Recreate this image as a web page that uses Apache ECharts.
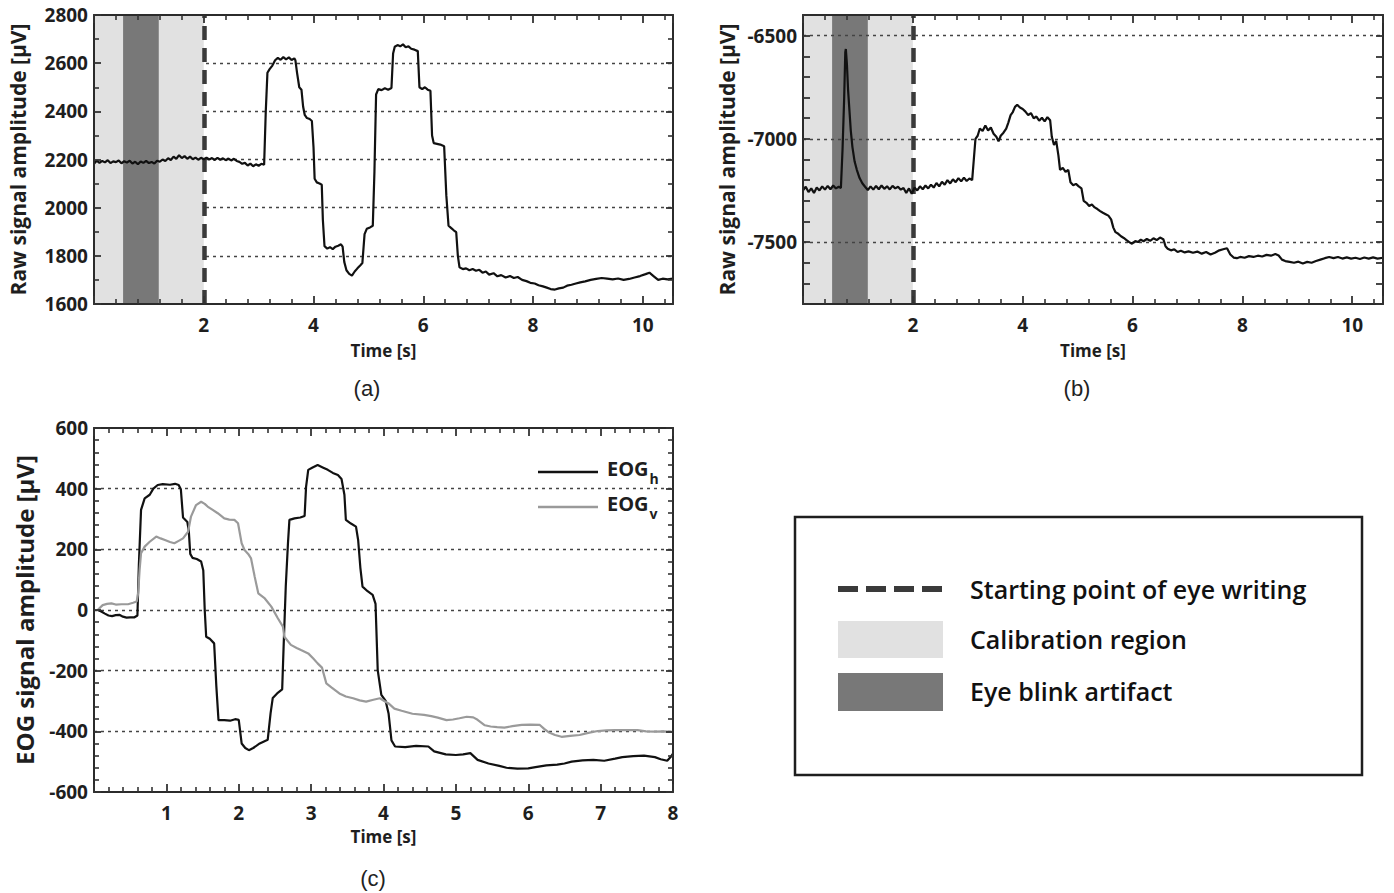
<!DOCTYPE html>
<html><head><meta charset="utf-8">
<script src="https://cdn.jsdelivr.net/npm/echarts@6/dist/echarts.min.js"></script>
<style>
html,body{margin:0;padding:0;background:#fff}
#wrap{position:relative;width:1394px;height:893px}
#plot,#axes{position:absolute;left:0;top:0;width:1394px;height:893px}
#axes{pointer-events:none}
</style>
</head><body><div id="wrap"><div id="plot"></div><div id="axes"></div></div>
<script>
// ---------- DATA ----------
// (a) raw horizontal channel: [time s, amplitude µV]
const rawA = [[0.00,2182],[0.05,2195],[0.10,2186],[0.15,2194],[0.20,2188],[0.25,2197],[0.30,2185],[0.35,2192],[0.40,2189],[0.45,2196],[0.50,2184],[0.55,2193],[0.60,2187],[0.65,2195],[0.70,2183],[0.75,2191],[0.80,2180],[0.85,2192],[0.90,2186],[0.95,2194],[1.00,2185],[1.05,2190],[1.10,2183],[1.15,2195],[1.20,2191],[1.25,2200],[1.30,2194],[1.35,2205],[1.40,2198],[1.45,2212],[1.50,2203],[1.55,2218],[1.60,2206],[1.65,2214],[1.70,2203],[1.75,2212],[1.80,2201],[1.85,2208],[1.90,2199],[1.95,2207],[2.00,2201],[2.05,2208],[2.10,2200],[2.15,2206],[2.20,2198],[2.25,2207],[2.30,2199],[2.35,2205],[2.40,2197],[2.45,2204],[2.50,2196],[2.55,2203],[2.60,2194],[2.65,2190],[2.70,2182],[2.75,2186],[2.80,2175],[2.85,2183],[2.90,2172],[2.95,2180],[3.00,2174],[3.05,2182],[3.10,2178],[3.13,2400],[3.16,2560],[3.20,2575],[3.25,2590],[3.30,2612],[3.35,2622],[3.40,2614],[3.45,2625],[3.50,2616],[3.55,2624],[3.60,2613],[3.65,2620],[3.67,2612],[3.70,2560],[3.74,2500],[3.78,2490],[3.81,2420],[3.84,2385],[3.88,2372],[3.93,2368],[3.97,2360],[4.00,2250],[4.02,2120],[4.06,2105],[4.11,2100],[4.15,2095],[4.17,1950],[4.20,1840],[4.25,1830],[4.30,1836],[4.35,1828],[4.40,1838],[4.45,1842],[4.50,1848],[4.53,1838],[4.56,1775],[4.60,1740],[4.65,1725],[4.70,1718],[4.75,1735],[4.80,1748],[4.85,1760],[4.89,1770],[4.93,1890],[4.97,1912],[5.03,1918],[5.08,1925],[5.11,2150],[5.14,2470],[5.18,2492],[5.24,2488],[5.30,2496],[5.36,2490],[5.42,2497],[5.45,2640],[5.48,2668],[5.53,2675],[5.58,2670],[5.63,2678],[5.68,2666],[5.73,2670],[5.78,2660],[5.84,2656],[5.90,2650],[5.93,2500],[5.98,2492],[6.03,2500],[6.08,2490],[6.13,2485],[6.16,2300],[6.19,2268],[6.25,2265],[6.31,2262],[6.38,2255],[6.42,2050],[6.46,1925],[6.51,1915],[6.56,1905],[6.60,1898],[6.63,1800],[6.66,1752],[6.72,1745],[6.78,1748],[6.84,1740],[6.90,1745],[6.96,1738],[7.02,1742],[7.08,1730],[7.14,1735],[7.20,1722],[7.28,1728],[7.35,1715],[7.42,1720],[7.50,1710],[7.58,1716],[7.65,1708],[7.72,1712],[7.80,1700],[7.88,1695],[7.95,1688],[8.03,1685],[8.10,1678],[8.18,1673],[8.25,1668],[8.32,1662],[8.40,1660],[8.47,1665],[8.55,1668],[8.62,1676],[8.70,1680],[8.78,1685],[8.86,1690],[8.95,1694],[9.05,1700],[9.15,1704],[9.25,1708],[9.35,1705],[9.45,1702],[9.55,1706],[9.65,1700],[9.75,1704],[9.85,1710],[9.95,1716],[10.05,1724],[10.12,1730],[10.20,1715],[10.28,1700],[10.36,1705],[10.45,1702],[10.55,1706]];

// (b) raw vertical channel: [time s, amplitude µV]
const rawB = [[0.00,-7250],[0.05,-7232],[0.10,-7258],[0.15,-7240],[0.20,-7262],[0.25,-7236],[0.30,-7250],[0.35,-7230],[0.40,-7246],[0.45,-7228],[0.50,-7244],[0.55,-7226],[0.60,-7240],[0.65,-7232],[0.69,-7238],[0.72,-7050],[0.75,-6800],[0.77,-6580],[0.78,-6565],[0.80,-6640],[0.82,-6760],[0.84,-6840],[0.87,-6960],[0.90,-7040],[0.94,-7110],[0.98,-7150],[1.03,-7190],[1.08,-7215],[1.13,-7232],[1.18,-7248],[1.23,-7230],[1.28,-7246],[1.33,-7228],[1.38,-7244],[1.43,-7226],[1.48,-7242],[1.53,-7230],[1.58,-7245],[1.63,-7228],[1.68,-7240],[1.73,-7232],[1.78,-7246],[1.83,-7238],[1.88,-7262],[1.93,-7240],[1.98,-7266],[2.03,-7236],[2.08,-7250],[2.13,-7230],[2.18,-7244],[2.23,-7226],[2.28,-7240],[2.33,-7222],[2.38,-7236],[2.43,-7214],[2.48,-7230],[2.53,-7208],[2.58,-7222],[2.63,-7200],[2.68,-7216],[2.73,-7196],[2.78,-7210],[2.83,-7190],[2.88,-7206],[2.93,-7188],[2.98,-7204],[3.03,-7192],[3.08,-7200],[3.11,-7100],[3.14,-7000],[3.18,-6985],[3.22,-6950],[3.27,-6962],[3.32,-6935],[3.37,-6960],[3.42,-6945],[3.47,-6975],[3.52,-6990],[3.56,-7012],[3.60,-6985],[3.65,-6970],[3.70,-6950],[3.74,-6920],[3.78,-6885],[3.82,-6870],[3.86,-6845],[3.90,-6835],[3.95,-6848],[4.00,-6855],[4.05,-6868],[4.10,-6885],[4.15,-6875],[4.20,-6900],[4.25,-6892],[4.30,-6912],[4.35,-6898],[4.40,-6915],[4.45,-6895],[4.50,-6910],[4.53,-6990],[4.57,-7030],[4.61,-7010],[4.65,-7080],[4.68,-7150],[4.73,-7140],[4.78,-7160],[4.83,-7150],[4.87,-7210],[4.92,-7225],[4.97,-7218],[5.02,-7230],[5.07,-7240],[5.11,-7300],[5.16,-7310],[5.21,-7325],[5.26,-7318],[5.31,-7332],[5.36,-7340],[5.41,-7350],[5.46,-7358],[5.51,-7365],[5.56,-7372],[5.61,-7390],[5.65,-7430],[5.69,-7452],[5.74,-7460],[5.79,-7472],[5.84,-7480],[5.89,-7490],[5.94,-7500],[5.99,-7508],[6.05,-7495],[6.10,-7500],[6.15,-7488],[6.20,-7496],[6.26,-7485],[6.32,-7494],[6.38,-7482],[6.44,-7490],[6.50,-7478],[6.56,-7486],[6.60,-7520],[6.64,-7532],[6.70,-7540],[6.76,-7535],[6.82,-7548],[6.88,-7542],[6.95,-7550],[7.02,-7545],[7.10,-7552],[7.18,-7546],[7.26,-7556],[7.34,-7548],[7.42,-7560],[7.50,-7552],[7.58,-7540],[7.65,-7535],[7.72,-7530],[7.78,-7560],[7.84,-7575],[7.90,-7578],[7.96,-7572],[8.04,-7576],[8.12,-7568],[8.20,-7572],[8.28,-7566],[8.36,-7570],[8.44,-7562],[8.52,-7566],[8.60,-7558],[8.66,-7565],[8.72,-7585],[8.78,-7592],[8.86,-7596],[8.94,-7600],[9.02,-7595],[9.10,-7604],[9.18,-7596],[9.26,-7600],[9.34,-7592],[9.42,-7585],[9.50,-7578],[9.58,-7572],[9.66,-7578],[9.74,-7572],[9.82,-7580],[9.90,-7574],[9.98,-7580],[10.06,-7576],[10.14,-7582],[10.22,-7575],[10.30,-7580],[10.38,-7574],[10.46,-7580],[10.56,-7576]];

// (c) EOG horizontal / vertical: [time s, amplitude µV]
const eogH = [[0.05,0],[0.10,-5],[0.15,-12],[0.20,-18],[0.25,-20],[0.30,-17],[0.35,-16],[0.40,-22],[0.45,-25],[0.50,-24],[0.56,-24],[0.60,-18],[0.62,150],[0.65,330],[0.70,368],[0.77,380],[0.82,400],[0.88,412],[0.95,415],[1.05,413],[1.12,416],[1.17,412],[1.20,398],[1.23,305],[1.29,290],[1.31,260],[1.33,185],[1.36,172],[1.42,168],[1.48,160],[1.51,130],[1.53,0],[1.55,-88],[1.60,-95],[1.66,-110],[1.69,-250],[1.72,-363],[1.80,-363],[1.88,-365],[1.95,-360],[2.00,-362],[2.04,-440],[2.09,-455],[2.14,-462],[2.20,-455],[2.29,-440],[2.40,-428],[2.44,-340],[2.47,-290],[2.53,-275],[2.60,-262],[2.62,-120],[2.65,80],[2.68,220],[2.70,297],[2.77,302],[2.85,305],[2.91,310],[2.93,406],[2.96,462],[3.02,470],[3.09,478],[3.16,470],[3.23,462],[3.30,452],[3.37,445],[3.42,432],[3.46,380],[3.48,297],[3.55,285],[3.62,275],[3.65,230],[3.68,140],[3.71,77],[3.78,62],[3.85,50],[3.89,20],[3.92,-198],[3.97,-280],[4.03,-300],[4.07,-341],[4.11,-430],[4.16,-450],[4.30,-452],[4.45,-448],[4.62,-450],[4.70,-466],[4.86,-476],[5.00,-478],[5.10,-476],[5.20,-472],[5.30,-494],[5.45,-506],[5.60,-514],[5.70,-520],[5.85,-523],[6.00,-522],[6.10,-518],[6.25,-512],[6.40,-510],[6.50,-506],[6.60,-500],[6.75,-496],[6.90,-494],[7.05,-497],[7.20,-490],[7.30,-485],[7.45,-482],[7.60,-480],[7.75,-485],[7.83,-492],[7.92,-497],[7.97,-484],[8.00,-473]];
const eogV = [[0.05,0],[0.12,16],[0.18,20],[0.24,22],[0.30,18],[0.38,19],[0.47,19],[0.54,24],[0.59,28],[0.61,55],[0.63,132],[0.65,187],[0.70,209],[0.77,225],[0.86,242],[0.92,236],[0.98,231],[1.05,224],[1.11,220],[1.17,228],[1.23,236],[1.30,258],[1.34,308],[1.41,346],[1.48,357],[1.53,350],[1.57,341],[1.64,330],[1.71,319],[1.80,302],[1.87,298],[1.94,297],[1.99,286],[2.04,220],[2.08,198],[2.13,185],[2.17,170],[2.22,110],[2.27,55],[2.36,38],[2.45,11],[2.54,-27],[2.61,-55],[2.63,-88],[2.72,-115],[2.80,-125],[2.86,-132],[2.96,-143],[3.03,-160],[3.09,-176],[3.15,-190],[3.21,-242],[3.28,-255],[3.39,-275],[3.48,-285],[3.58,-291],[3.67,-298],[3.76,-302],[3.86,-296],[3.95,-291],[4.01,-300],[4.07,-308],[4.15,-325],[4.25,-332],[4.40,-342],[4.56,-346],[4.66,-350],[4.75,-355],[4.87,-363],[4.96,-361],[5.05,-357],[5.15,-352],[5.24,-354],[5.30,-362],[5.40,-380],[5.48,-384],[5.57,-386],[5.67,-388],[5.78,-383],[5.91,-379],[6.03,-378],[6.16,-379],[6.22,-392],[6.28,-403],[6.37,-412],[6.46,-418],[6.58,-415],[6.71,-412],[6.83,-405],[6.96,-399],[7.08,-397],[7.20,-396],[7.35,-396],[7.51,-396],[7.63,-400],[7.75,-401],[7.87,-400],[8.00,-402]];

// markers / reference values
const calibRange = [0, 2];          // s
const blinkRange = [0.53, 1.18];    // s
const writingStart = 2;             // s
const gridValsA = [1800, 2000, 2200, 2400, 2600];
const gridValsB = [-6500, -7000, -7500];
const gridValsC = [-400, -200, 0, 200, 400];
const keyNames = ['Starting point of eye writing', 'Calibration region', 'Eye blink artifact'];

// ---------- STYLE ----------
const FONT = "'Open Sans', 'Liberation Sans', sans-serif";
const AX = '#2b2b2b';
const C_CALIB = '#e1e1e1', C_BLINK = '#787878', C_DASH = '#3a3a3a', C_GRID = '#444';
const tickLbl = {fontSize: 19, fontWeight: 'bold', color: '#1e1e1e', fontFamily: FONT};
const nameStyle = (fs) => ({fontSize: fs, fontWeight: 'bold', color: '#1e1e1e', fontFamily: FONT});

const rectA = {left: 94, top: 15, width: 579, height: 289};
const rectB = {left: 803, top: 15, width: 580, height: 289};
const rectC = {left: 94, top: 428, width: 579, height: 364};
const ranges = [
  {x: [0, 10.55], y: [1600, 2800]},
  {x: [0, 10.56], y: [-7800, -6400]},
  {x: [0, 8], y: [-600, 600]}
];

// ===== Layer 1: data, regions, gridlines, legend, key =====
function hiddenAx(gi, r) { return {type: 'value', gridIndex: gi, min: r[0], max: r[1], show: false}; }
function gridLines(xi, yi, vals, z) {
  return {type: 'line', xAxisIndex: xi, yAxisIndex: yi, data: [], silent: true,
    markLine: {silent: true, z: z, symbol: ['none', 'none'], label: {show: false},
      lineStyle: {type: [3, 4], color: C_GRID, width: 1.3},
      data: vals.map(v => ({yAxis: v}))}};
}
function regions(xi, yi) {
  return [
    {name: keyNames[1], type: 'line', xAxisIndex: xi, yAxisIndex: yi, data: [], itemStyle: {color: C_CALIB},
      markArea: {silent: true, z: 2, itemStyle: {color: C_CALIB},
        data: [[{xAxis: calibRange[0]}, {xAxis: calibRange[1]}]]}},
    {name: keyNames[2], type: 'line', xAxisIndex: xi, yAxisIndex: yi, data: [], itemStyle: {color: C_BLINK},
      markArea: {silent: true, z: 3, itemStyle: {color: C_BLINK},
        data: [[{xAxis: blinkRange[0]}, {xAxis: blinkRange[1]}]]}},
    {name: keyNames[0], type: 'line', xAxisIndex: xi, yAxisIndex: yi, data: [], itemStyle: {color: C_DASH},
      markLine: {silent: true, z: 4, symbol: ['none', 'none'], label: {show: false},
        lineStyle: {type: [14, 8], color: C_DASH, width: 4.5},
        data: [{xAxis: writingStart}]}}
  ];
}
function trace(name, xi, yi, data, color) {
  return {name: name, type: 'line', xAxisIndex: xi, yAxisIndex: yi, data: data, z: 5,
    showSymbol: false, symbol: 'none', itemStyle: {color: color},
    lineStyle: {color: color, width: 2.2}};
}
const keyFont = {fontSize: 25, fontWeight: 600, fontFamily: FONT, fill: '#111', align: 'left', verticalAlign: 'middle'};
const panelFont = {fontSize: 22, fontFamily: "'Liberation Sans', Arial, sans-serif", fill: '#222', align: 'center', verticalAlign: 'middle'};

const plotOption = {
  animation: false,
  grid: [rectA, rectB, rectC].map(r => Object.assign({}, r)),
  xAxis: ranges.map((r, i) => hiddenAx(i, r.x)),
  yAxis: ranges.map((r, i) => hiddenAx(i, r.y)),
  legend: {
    data: ['EOGh', 'EOGv'], orient: 'vertical', left: 538, top: 458, padding: 0,
    icon: 'rect', itemWidth: 60, itemHeight: 2.5, itemGap: 7, selectedMode: false,
    itemStyle: {borderWidth: 0},
    formatter: n => '{a|EOG}{b|' + n.slice(3) + '}',
    textStyle: {padding: [0, 0, 0, 4], rich: {
      a: {fontSize: 20, fontWeight: 'bold', color: '#1e1e1e', fontFamily: FONT, lineHeight: 22, padding: [0, 0, 8, 0]},
      b: {fontSize: 14, fontWeight: 'bold', color: '#1e1e1e', fontFamily: FONT, lineHeight: 14, padding: [12, 0, 0, 1]}
    }}
  },
  graphic: [
    {type: 'rect', shape: {x: 795, y: 517, width: 567, height: 258}, style: {fill: 'none', stroke: '#1e1e1e', lineWidth: 2.5}, silent: true},
    {type: 'line', shape: {x1: 838, y1: 589, x2: 943, y2: 589}, style: {stroke: C_DASH, lineWidth: 6, lineDash: [20, 8]}, silent: true},
    {type: 'rect', shape: {x: 838, y: 621, width: 105, height: 37}, style: {fill: C_CALIB}, silent: true},
    {type: 'rect', shape: {x: 838, y: 673, width: 105, height: 38}, style: {fill: C_BLINK}, silent: true},
    {type: 'text', x: 970, y: 589, silent: true, style: Object.assign({text: keyNames[0]}, keyFont)},
    {type: 'text', x: 970, y: 639, silent: true, style: Object.assign({text: keyNames[1]}, keyFont)},
    {type: 'text', x: 970, y: 691, silent: true, style: Object.assign({text: keyNames[2]}, keyFont)},
    {type: 'text', x: 367, y: 388, silent: true, style: Object.assign({text: '(a)'}, panelFont)},
    {type: 'text', x: 1077, y: 388, silent: true, style: Object.assign({text: '(b)'}, panelFont)},
    {type: 'text', x: 373, y: 878, silent: true, style: Object.assign({text: '(c)'}, panelFont)}
  ],
  series: [
    gridLines(0, 0, gridValsA, 1),
    ...regions(0, 0),
    trace('Raw (a)', 0, 0, rawA, '#111'),
    ...regions(1, 1),
    gridLines(1, 1, gridValsB, 3.5),
    trace('Raw (b)', 1, 1, rawB, '#111'),
    gridLines(2, 2, gridValsC, 1),
    trace('EOGh', 2, 2, eogH, '#111'),
    trace('EOGv', 2, 2, eogV, '#9a9a9a')
  ]
};

// ===== Layer 2 (on top): frames, ticks, tick labels, axis names =====
function xAx(gi, pos, max, interval, withLabels, fmt, nameGap) {
  return {
    type: 'value', gridIndex: gi, position: pos, min: 0, max: max, interval: interval,
    axisLine: {show: true, onZero: false, lineStyle: {color: AX, width: 2}},
    axisTick: {show: true, inside: true, length: 8, lineStyle: {color: '#333333', width: 1.8}},
    minorTick: {show: true, splitNumber: 5, length: 5, lineStyle: {color: '#333333', width: 1.6}},
    splitLine: {show: false}, minorSplitLine: {show: false},
    axisLabel: Object.assign({show: withLabels, margin: 11, formatter: fmt || (v => String(v))}, tickLbl),
    name: withLabels ? 'Time [s]' : '', nameLocation: 'middle', nameGap: nameGap || 38,
    nameTextStyle: nameStyle(17)
  };
}
function yAx(gi, pos, min, max, interval, minorSplit, withLabels, fmt, name, nameGap, nameFs) {
  return {
    type: 'value', gridIndex: gi, position: pos, min: min, max: max, interval: interval,
    axisLine: {show: true, onZero: false, lineStyle: {color: AX, width: 2}},
    axisTick: {show: true, inside: true, length: 7, lineStyle: {color: '#333333', width: 1.8}},
    minorTick: {show: minorSplit > 1, splitNumber: minorSplit || 2, length: 5, lineStyle: {color: '#333333', width: 1.6}},
    splitLine: {show: false}, minorSplitLine: {show: false},
    axisLabel: Object.assign({show: withLabels, margin: 6, formatter: fmt || (v => String(v))}, tickLbl),
    name: withLabels ? name : '', nameLocation: 'middle', nameGap: nameGap || 40, nameRotate: 90,
    nameTextStyle: nameStyle(nameFs || 20)
  };
}
const fmtEven = v => (v > 0 && Math.abs(v % 2) < 1e-9) ? String(v) : '';
const fmtPos = v => (v > 0) ? String(v) : '';
const fmtB = v => (Math.abs(v % 500) < 1e-9) ? String(v) : '';
const fmtPlain = v => String(v);

const axesOption = {
  animation: false,
  grid: [rectA, rectB, rectC, rectA, rectB, rectC].map(r => Object.assign({}, r)),
  xAxis: [
    xAx(0, 'bottom', ranges[0].x[1], 2, true, fmtEven, 38),
    xAx(1, 'bottom', ranges[1].x[1], 2, true, fmtEven, 38),
    xAx(2, 'bottom', ranges[2].x[1], 1, true, fmtPos, 36),
    xAx(3, 'top', ranges[0].x[1], 2, false),
    xAx(4, 'top', ranges[1].x[1], 2, false),
    xAx(5, 'top', ranges[2].x[1], 1, false)
  ],
  yAxis: [
    yAx(0, 'left', ranges[0].y[0], ranges[0].y[1], 200, 2, true, fmtPlain, 'Raw signal amplitude [μV]', 66, 21),
    yAx(1, 'left', ranges[1].y[0], ranges[1].y[1], 100, 0, true, fmtB, 'Raw signal amplitude [μV]', 66, 21),
    yAx(2, 'left', ranges[2].y[0], ranges[2].y[1], 200, 5, true, fmtPlain, 'EOG signal amplitude [μV]', 58, 24),
    yAx(3, 'right', ranges[0].y[0], ranges[0].y[1], 200, 2, false),
    yAx(4, 'right', ranges[1].y[0], ranges[1].y[1], 100, 0, false),
    yAx(5, 'right', ranges[2].y[0], ranges[2].y[1], 200, 5, false)
  ],
  series: [0, 1, 2, 3, 4, 5].map(i => ({type: 'line', xAxisIndex: i, yAxisIndex: i, data: [], silent: true}))
};

const plotChart = echarts.init(document.getElementById('plot'), null, {renderer: 'svg', width: 1394, height: 893});
plotChart.setOption(plotOption);
const axesChart = echarts.init(document.getElementById('axes'), null, {renderer: 'svg', width: 1394, height: 893});
axesChart.setOption(axesOption);
</script>
</body></html>
